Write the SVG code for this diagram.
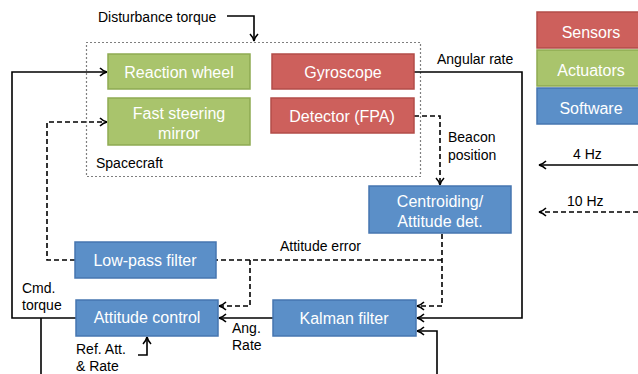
<svg xmlns="http://www.w3.org/2000/svg" width="638" height="374" viewBox="0 0 638 374">
<defs>
<style>
.box{stroke-width:1.5}
.red{fill:#cd605c;stroke:#b24c48}
.green{fill:#a9c46c;stroke:#8eaa52}
.blue{fill:#5b8fc8;stroke:#4676b0}
.bt{font-family:"Liberation Sans",Arial,sans-serif;font-size:16px;fill:#fff;text-anchor:middle}
.lb{font-family:"Liberation Sans",Arial,sans-serif;font-size:14px;fill:#000}
.w{fill:none;stroke:#000;stroke-width:1.6}
.d{fill:none;stroke:#000;stroke-width:1.6;stroke-dasharray:5,3}
</style>
<marker id="ah" viewBox="0 0 10 10" refX="9" refY="5" markerWidth="10" markerHeight="10" markerUnits="userSpaceOnUse" orient="auto">
<path d="M2,1 Q5,4 9,5 Q5,6 2,9" fill="none" stroke="#000" stroke-width="1.6"/>
</marker>
</defs>
<rect width="638" height="374" fill="#fff"/>

<g id="spacecraft">
<rect x="86.5" y="42.5" width="334" height="134" fill="none" stroke="#000" stroke-width="1.2" stroke-dasharray="1,3"/>
<text class="lb" x="96" y="168">Spacecraft</text>
</g>

<g id="connectors">
<path class="w" d="M227,16 H254 V41" marker-end="url(#ah)"/>
<path class="w" d="M76,318 H12 V72 H107" marker-end="url(#ah)"/>
<path class="w" d="M41,318 V374"/>
<path class="d" d="M75,260 H47 V122 H107" marker-end="url(#ah)"/>
<path class="w" d="M414,72 H522 V318 H417" marker-end="url(#ah)"/>
<path class="w" d="M437,374 V331 H417" marker-end="url(#ah)"/>
<path class="d" d="M414,116 H440 V185" marker-end="url(#ah)"/>
<path class="d" d="M442,234 V306 H417" marker-end="url(#ah)"/>
<path class="d" d="M442,260 H216"/>
<path class="d" d="M250,260 V306 H219" marker-end="url(#ah)"/>
<path class="w" d="M273,318 H219" marker-end="url(#ah)"/>
<path class="w" d="M138,355 H147 V337" marker-end="url(#ah)"/>
<path class="w" d="M638,165 H539" marker-end="url(#ah)"/>
<path class="d" d="M638,212 H539" marker-end="url(#ah)"/>
</g>

<g id="reaction-wheel"><rect class="box green" x="108" y="54" width="142" height="35"/><text class="bt" x="179" y="78">Reaction wheel</text></g>
<g id="fast-steering-mirror"><rect class="box green" x="108" y="98" width="142" height="47"/><text class="bt" x="179" y="119">Fast steering</text><text class="bt" x="179" y="139">mirror</text></g>
<g id="gyroscope"><rect class="box red" x="272" y="54" width="142" height="35"/><text class="bt" x="343" y="78">Gyroscope</text></g>
<g id="detector"><rect class="box red" x="271" y="98" width="143" height="35"/><text class="bt" x="342" y="122">Detector (FPA)</text></g>
<g id="centroiding"><rect class="box blue" x="369" y="186" width="142" height="47"/><text class="bt" x="440" y="207">Centroiding/</text><text class="bt" x="440" y="227">Attitude det.</text></g>
<g id="low-pass-filter"><rect class="box blue" x="75" y="242" width="141" height="36"/><text class="bt" x="145" y="266">Low-pass filter</text></g>
<g id="attitude-control"><rect class="box blue" x="76" y="300" width="142" height="36"/><text class="bt" x="147" y="323">Attitude control</text></g>
<g id="kalman-filter"><rect class="box blue" x="273" y="300" width="143" height="36"/><text class="bt" x="344" y="324">Kalman filter</text></g>

<g id="legend-sensors"><rect class="box red" x="537" y="12" width="110" height="36"/><text class="bt" x="591" y="38">Sensors</text></g>
<g id="legend-actuators"><rect class="box green" x="537" y="50" width="110" height="36"/><text class="bt" x="591" y="76">Actuators</text></g>
<g id="legend-software"><rect class="box blue" x="537" y="88" width="110" height="36"/><text class="bt" x="591" y="114">Software</text></g>

<g id="labels">
<text class="lb" x="98" y="22">Disturbance torque</text>
<text class="lb" x="437" y="64">Angular rate</text>
<text class="lb" x="448" y="142">Beacon</text>
<text class="lb" x="448" y="160">position</text>
<text class="lb" x="573" y="159">4 Hz</text>
<text class="lb" x="567" y="206">10 Hz</text>
<text class="lb" x="280" y="251">Attitude error</text>
<text class="lb" x="22" y="293">Cmd.</text>
<text class="lb" x="22" y="310">torque</text>
<text class="lb" x="232" y="333">Ang.</text>
<text class="lb" x="232" y="350">Rate</text>
<text class="lb" x="76" y="354">Ref. Att.</text>
<text class="lb" x="76" y="371">&amp; Rate</text>
</g>
</svg>
